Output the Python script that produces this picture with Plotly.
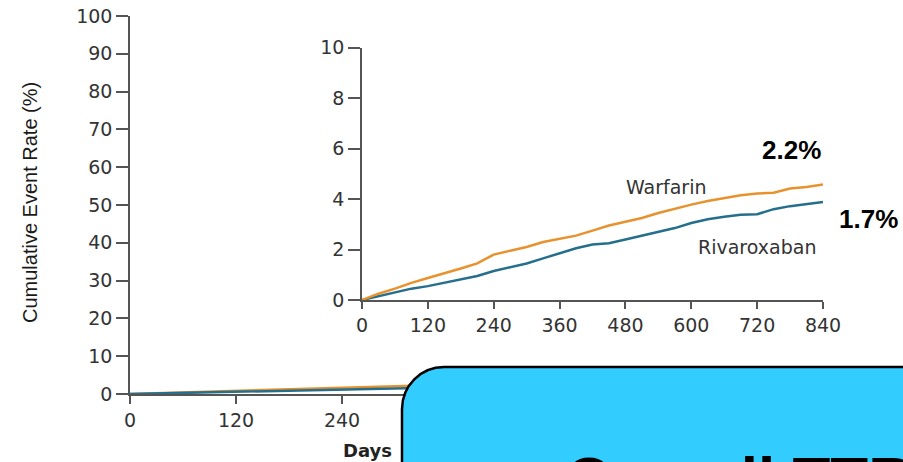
import plotly.graph_objects as go

# ---------------- data ----------------
days = [0, 30, 60, 90, 120, 150, 180, 210, 240, 270, 300, 330, 360, 390, 420,
        450, 480, 510, 540, 570, 600, 630, 660, 690, 720, 750, 780, 810, 840]
warfarin = [0, 0.25, 0.45, 0.68, 0.87, 1.05, 1.25, 1.45, 1.80, 1.95, 2.10, 2.30,
            2.42, 2.55, 2.75, 2.95, 3.10, 3.25, 3.45, 3.62, 3.78, 3.92, 4.05,
            4.15, 4.22, 4.25, 4.42, 4.48, 4.58]
rivaroxaban = [0, 0.15, 0.30, 0.45, 0.55, 0.68, 0.80, 0.95, 1.15, 1.30, 1.45,
               1.65, 1.85, 2.05, 2.20, 2.25, 2.40, 2.55, 2.70, 2.85, 3.05, 3.20,
               3.30, 3.38, 3.40, 3.60, 3.72, 3.80, 3.88]
x_ticks = [0, 120, 240, 360, 480, 600, 720, 840]
main_y_ticks = [0, 10, 20, 30, 40, 50, 60, 70, 80, 90, 100]
inset_y_ticks = [0, 2, 4, 6, 8, 10]
series_names = ["Warfarin", "Rivaroxaban"]
annual_rates = ["2.2%", "1.7%"]
box_text = "Overall TTR"

# ---------------- layout helpers ----------------
W, H = 903, 462
def px(x):
    return x / W
def py(y):
    return 1 - y / H

ORANGE = "#E8922E"
TEAL = "#256F8C"
AXIS = "#555555"
TICKFONT = dict(family="DejaVu Sans", size=19, color="#333333")

fig = go.Figure()
for name, vals, col in [(series_names[0], warfarin, ORANGE), (series_names[1], rivaroxaban, TEAL)]:
    fig.add_trace(go.Scatter(x=days, y=vals, mode="lines", name=name,
                             line=dict(color=col, width=2.5), xaxis="x", yaxis="y",
                             showlegend=False))
for name, vals, col in [(series_names[1], rivaroxaban, TEAL), (series_names[0], warfarin, ORANGE)]:
    fig.add_trace(go.Scatter(x=days, y=vals, mode="lines", name=name,
                             line=dict(color=col, width=2.5), xaxis="x2", yaxis="y2",
                             showlegend=False))

common_axis = dict(showline=True, linecolor=AXIS, linewidth=1.5, showgrid=False,
                   zeroline=False, ticks="outside", tickcolor=AXIS, tickwidth=1.5,
                   tickfont=TICKFONT, fixedrange=True, automargin=False,
                   ticklabeloverflow="allow")

fig.update_layout(
    width=W, height=H,
    margin=dict(l=0, r=0, t=0, b=0, pad=0, autoexpand=False),
    paper_bgcolor="white", plot_bgcolor="rgba(0,0,0,0)",
    xaxis=dict(domain=[px(130), px(872)], range=[0, 840], tickvals=x_ticks,
               ticklen=8, anchor="y", **common_axis),
    yaxis=dict(domain=[py(394), py(16)], range=[0, 100], tickvals=main_y_ticks,
               ticklen=12, anchor="x", **common_axis),
    xaxis2=dict(domain=[px(362), px(823)], range=[0, 840], tickvals=x_ticks,
                ticklen=7, anchor="y2", **common_axis),
    yaxis2=dict(domain=[py(300), py(47.7)], range=[0, 10], tickvals=inset_y_ticks,
                ticklen=12, anchor="x2", **common_axis),
)

def label(text, x, y, font, **kw):
    args = dict(text=text, xref="paper", yref="paper", x=px(x), y=py(y),
                xanchor="center", yanchor="middle", showarrow=False, font=font)
    args.update(kw)
    fig.add_annotation(**args)

label("Cumulative Event Rate (%)", 30, 203,
      dict(family="Liberation Sans Narrow, Liberation Sans", size=20, color="#1a1a1a"),
      textangle=-90)
label("<b>Days</b>", 367, 450, dict(family="DejaVu Sans", size=18, color="#222222"))
label(series_names[0], 666, 187, dict(family="DejaVu Sans", size=19, color="#333333"))
label(series_names[1], 757, 247, dict(family="DejaVu Sans", size=19, color="#333333"))
label("<b>" + annual_rates[0] + "</b>", 791, 150,
      dict(family="Liberation Sans", size=26, color="#000000"))
label("<b>" + annual_rates[1] + "</b>", 868, 219,
      dict(family="Liberation Sans", size=26, color="#000000"))

# cyan rounded box (extends beyond the frame)
x0, y0, r = 402, 367, 42
k = 0.5523 * r
x_end, y_end = 960, 520
path = (f"M {px(x0)},{py(y_end)} L {px(x0)},{py(y0 + r)} "
        f"C {px(x0)},{py(y0 + r - k)} {px(x0 + r - k)},{py(y0)} {px(x0 + r)},{py(y0)} "
        f"L {px(x_end)},{py(y0)} L {px(x_end)},{py(y_end)} Z")
fig.add_shape(type="path", path=path, xref="paper", yref="paper",
              fillcolor="#33CCFF", line=dict(color="black", width=2.5), layer="above")
label("<b>" + box_text + "</b>", 563, 442,
      dict(family="Liberation Sans", size=62, color="#000000"),
      xanchor="left", yanchor="top")

fig.write_html("out.html", config={"displayModeBar": False},
               post_script="document.body.style.margin='0';document.body.style.overflow='hidden';")
